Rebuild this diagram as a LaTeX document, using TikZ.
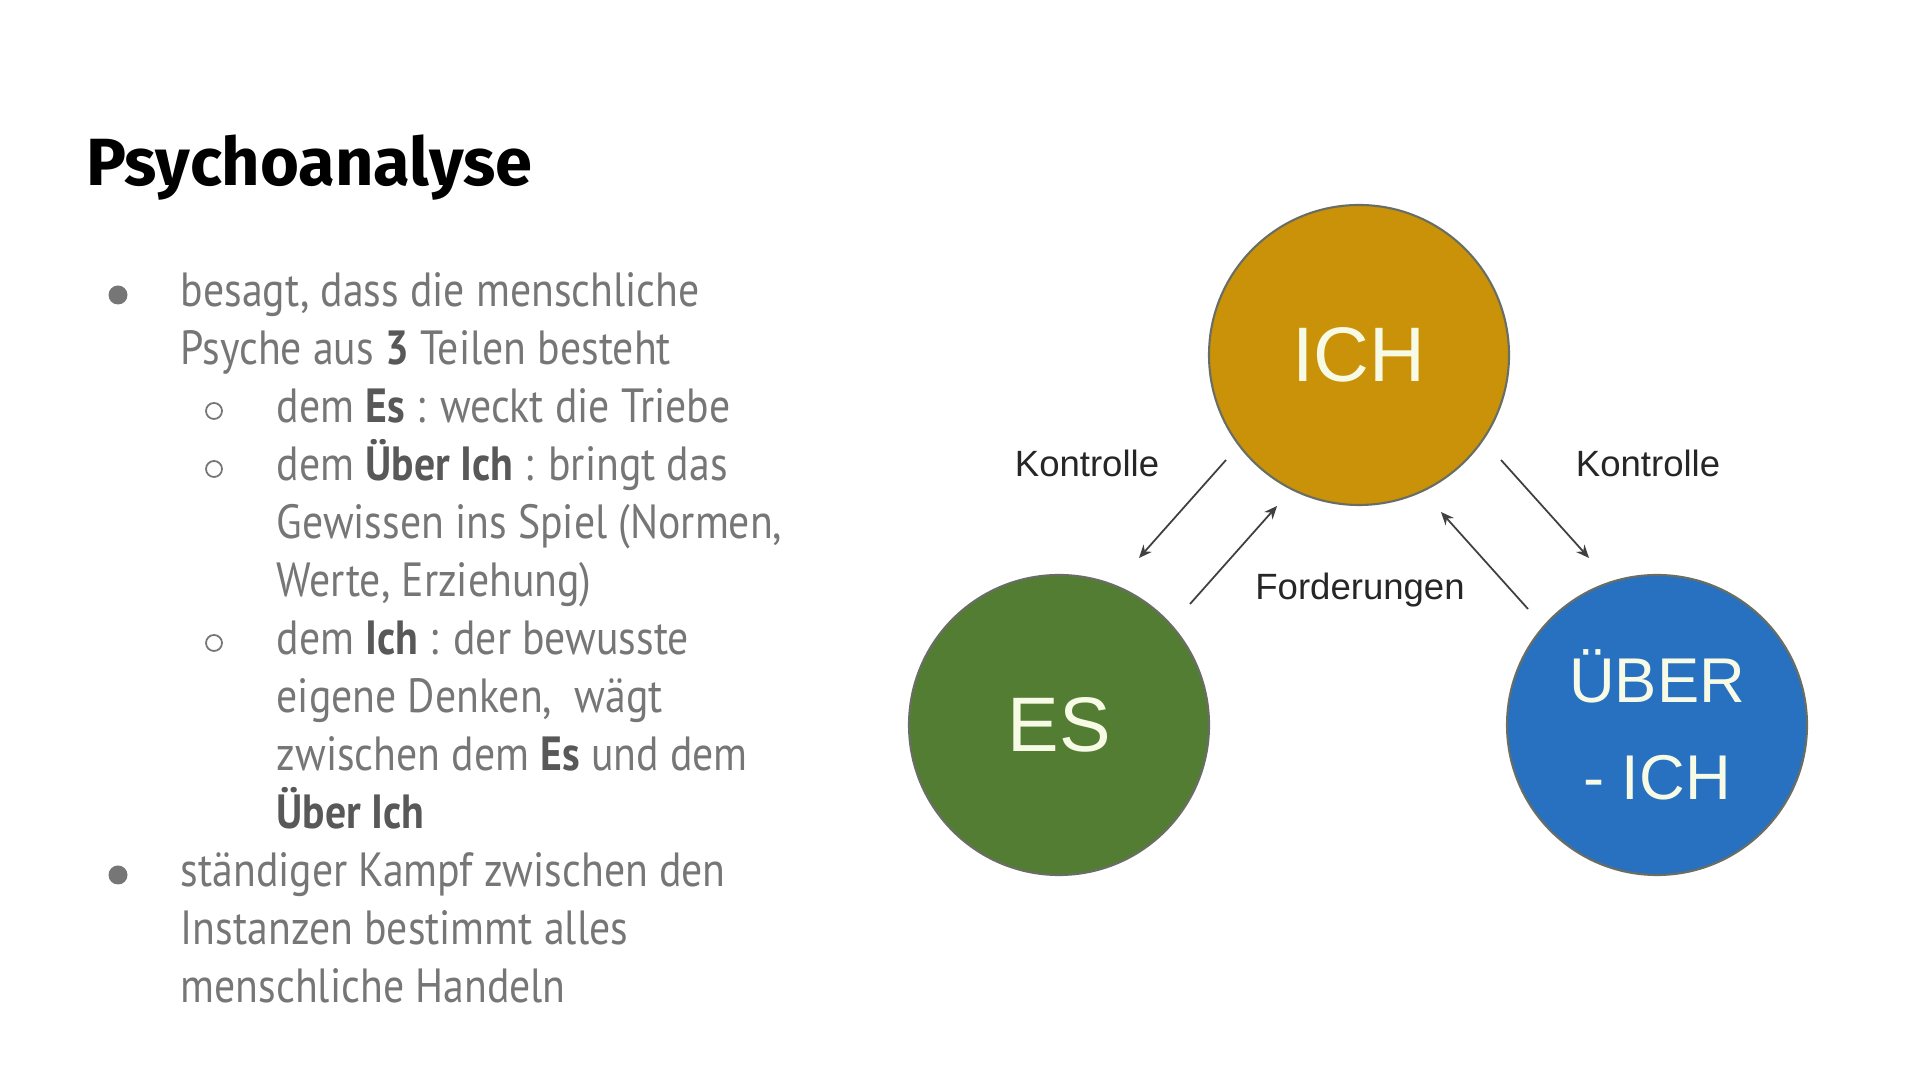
\documentclass[tikz,border=0pt]{standalone}
\usepackage{fontspec}
\setmainfont{PT Sans}[FakeStretch=0.87]
\newfontfamily\titelfont{Fira Sans}
\newfontfamily\diagfont{Liberation Sans}
\usetikzlibrary{positioning, arrows.meta}

\definecolor{ichgelb}{RGB}{201,146,8}
\definecolor{esgruen}{RGB}{84,125,52}
\definecolor{uberblau}{RGB}{40,112,192}
\definecolor{kreisrand}{RGB}{105,110,100}
\definecolor{kreisschrift}{RGB}{247,250,228}
\definecolor{textgrau}{RGB}{118,118,118}
\definecolor{fettgrau}{RGB}{88,88,88}

\tikzset{
  instanz/.style={circle, draw=kreisrand, line width=0.6pt, minimum size=3.0cm,
    inner sep=0pt, text=kreisschrift, align=center,
    font=\diagfont\fontsize{22}{27.5}\selectfont},
  pfeil/.style={-{Stealth[length=1.3mm,width=1.1mm]}, line width=0.5pt, draw=black!75},
  beschriftung/.style={font=\diagfont\fontsize{10.4}{12}\selectfont, text=black!85},
  zeile/.style={anchor=base west, inner sep=0pt, text=textgrau, font=\fontsize{13.66}{16}\selectfont},
}
\newcommand{\fett}[1]{{\bfseries\color{fettgrau}#1}}

\begin{document}
\begin{tikzpicture}

% Rahmen
\fill[white] (0,0) rectangle (19.2,10.8);
\useasboundingbox (0,0) rectangle (19.2,10.8);

% Titel
\node[anchor=base west, inner sep=0pt, font=\titelfont\bfseries\fontsize{19}{22}\selectfont] (titel) at (0.86,8.94) {Psychoanalyse};

% Aufzaehlung
\node[zeile] (z0) at (1.80,7.73) {besagt, dass die menschliche};
\node[zeile] (z1) at (1.80,7.15) {Psyche aus \fett{3} Teilen besteht};
\node[zeile] (z2) at (2.76,6.57) {dem \fett{Es} : weckt die Triebe};
\node[zeile] (z3) at (2.76,5.99) {dem \fett{Über Ich} : bringt das};
\node[zeile] (z4) at (2.76,5.41) {Gewissen ins Spiel (Normen,};
\node[zeile] (z5) at (2.76,4.83) {Werte, Erziehung)};
\node[zeile] (z6) at (2.76,4.25) {dem \fett{Ich} : der bewusste};
\node[zeile] (z7) at (2.76,3.67) {eigene Denken,\ \ wägt};
\node[zeile] (z8) at (2.76,3.09) {zwischen dem \fett{Es} und dem};
\node[zeile] (z9) at (2.76,2.51) {\fett{Über Ich}};
\node[zeile] (z10) at (1.80,1.93) {ständiger Kampf zwischen den};
\node[zeile] (z11) at (1.80,1.35) {Instanzen bestimmt alles};
\node[zeile] (z12) at (1.80,0.77) {menschliche Handeln};

% Punkte
\fill[textgrau] (1.18,7.85) circle (0.095);
\fill[textgrau] (1.18,2.05) circle (0.095);
\draw[textgrau, line width=0.5pt] (2.14,6.69) circle (0.08);
\draw[textgrau, line width=0.5pt] (2.14,6.11) circle (0.08);
\draw[textgrau, line width=0.5pt] (2.14,4.37) circle (0.08);

% Instanzen
\node[instanz, fill=ichgelb] (ich) at (13.59,7.25) {ICH};
\node[instanz, fill=esgruen] (es) at (10.59,3.55) {ES};
\node[instanz, fill=uberblau, font=\diagfont\fontsize{18}{27.5}\selectfont] (uber) at (16.57,3.55) {ÜBER\\- ICH};

% Beschriftungen
\node[beschriftung] (kontrolleL) at (10.87,6.17) {Kontrolle};
\node[beschriftung] (kontrolleR) at (16.48,6.17) {Kontrolle};
\node[beschriftung] (forderungen) at (13.60,4.90) {Forderungen};

% Pfeile
\coordinate (k1a) at (12.26,6.20);
\coordinate (k1b) at (11.39,5.22);
\coordinate (f1a) at (11.90,4.76);
\coordinate (f1b) at (12.77,5.74);
\coordinate (f2a) at (15.28,4.71);
\coordinate (f2b) at (14.41,5.68);
\coordinate (k2a) at (15.01,6.20);
\coordinate (k2b) at (15.89,5.22);
\draw[pfeil] (k1a) -- (k1b);
\draw[pfeil] (f1a) -- (f1b);
\draw[pfeil] (f2a) -- (f2b);
\draw[pfeil] (k2a) -- (k2b);

\end{tikzpicture}
\end{document}
